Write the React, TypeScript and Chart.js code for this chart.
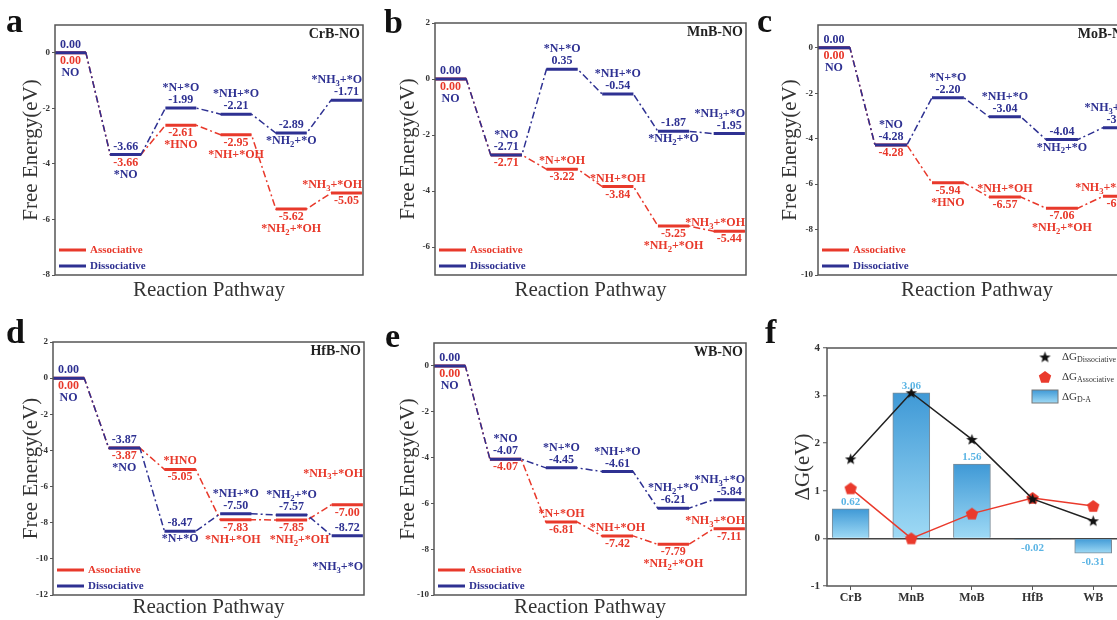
import React, { useEffect, useRef } from 'react';
import { Chart, registerables } from 'chart.js';

Chart.register(...registerables);

const SERIF = '"Liberation Serif", "Times New Roman", serif';
const BLUE = '#2e3192';
const RED = '#e8392b';
const AXIS = '#555555';
const TXT = '#333333';

// ---------------- data ----------------
const crbDissociative = [0.0, -3.66, -1.99, -2.21, -2.89, -1.71];
const crbAssociative = [0.0, -3.66, -2.61, -2.95, -5.62, -5.05];
const crbYTicks = [0, -2, -4, -6, -8];

const mnbDissociative = [0.0, -2.71, 0.35, -0.54, -1.87, -1.95];
const mnbAssociative = [0.0, -2.71, -3.22, -3.84, -5.25, -5.44];
const mnbYTicks = [2, 0, -2, -4, -6];

const mobDissociative = [0.0, -4.28, -2.2, -3.04, -4.04, -3.52];
const mobAssociative = [0.0, -4.28, -5.94, -6.57, -7.06, -6.54];
const mobYTicks = [0, -2, -4, -6, -8, -10];

const hfbDissociative = [0.0, -3.87, -8.47, -7.5, -7.57, -8.72];
const hfbAssociative = [0.0, -3.87, -5.05, -7.83, -7.85, -7.0];
const hfbYTicks = [2, 0, -2, -4, -6, -8, -10, -12];

const wbDissociative = [0.0, -4.07, -4.45, -4.61, -6.21, -5.84];
const wbAssociative = [0.0, -4.07, -6.81, -7.42, -7.79, -7.11];
const wbYTicks = [0, -2, -4, -6, -8, -10];

const catalysts = ['CrB', 'MnB', 'MoB', 'HfB', 'WB'];
const dGDissociative = [1.67, 3.06, 2.08, 0.83, 0.37];
const dGAssociative = [1.05, 0.0, 0.52, 0.85, 0.68];
const dGDiff = [0.62, 3.06, 1.56, -0.02, -0.31];
const dGYTicks = [-1, 0, 1, 2, 3, 4];

// [state, series (A=associative, D=dissociative), slot, text, optional x nudge]
const crbLabels = [
  [0, 'D', 'u1', '0.00'], [0, 'A', 'd1', '0.00'], [0, 'D', 'd2', 'NO'],
  [1, 'D', 'u1', '-3.66'], [1, 'A', 'd1', '-3.66'], [1, 'D', 'd2', '*NO'],
  [2, 'D', 'u2', '*N+*O'], [2, 'D', 'u1', '-1.99'], [2, 'A', 'd1', '-2.61'], [2, 'A', 'd2', '*HNO'],
  [3, 'D', 'u2', '*NH+*O'], [3, 'D', 'u1', '-2.21'], [3, 'A', 'd1', '-2.95'], [3, 'A', 'd2', '*NH+*OH'],
  [4, 'D', 'u1', '-2.89'], [4, 'D', 'd1', '*NH_2+*O'], [4, 'A', 'd1', '-5.62'], [4, 'A', 'd2', '*NH_2+*OH'],
  [5, 'D', 'u2', '*NH_3+*O'], [5, 'D', 'u1', '-1.71'], [5, 'A', 'u1', '*NH_3+*OH'], [5, 'A', 'd1', '-5.05'],
];
const mnbLabels = [
  [0, 'D', 'u1', '0.00'], [0, 'A', 'd1', '0.00'], [0, 'D', 'd2', 'NO'],
  [1, 'D', 'u2', '*NO'], [1, 'D', 'u1', '-2.71'], [1, 'A', 'd1', '-2.71'],
  [2, 'D', 'u2', '*N+*O'], [2, 'D', 'u1', '0.35'], [2, 'A', 'u1', '*N+*OH'], [2, 'A', 'd1', '-3.22'],
  [3, 'D', 'u2', '*NH+*O'], [3, 'D', 'u1', '-0.54'], [3, 'A', 'u1', '*NH+*OH'], [3, 'A', 'd1', '-3.84'],
  [4, 'D', 'u1', '-1.87'], [4, 'D', 'd1', '*NH_2+*O'], [4, 'A', 'd1', '-5.25'], [4, 'A', 'd2', '*NH_2+*OH'],
  [5, 'D', 'u2', '*NH_3+*O'], [5, 'D', 'u1', '-1.95'], [5, 'A', 'u1', '*NH_3+*OH'], [5, 'A', 'd1', '-5.44'],
];
const mobLabels = [
  [0, 'D', 'u1', '0.00'], [0, 'A', 'd1', '0.00'], [0, 'D', 'd2', 'NO'],
  [1, 'D', 'u2', '*NO'], [1, 'D', 'u1', '-4.28'], [1, 'A', 'd1', '-4.28'],
  [2, 'D', 'u2', '*N+*O'], [2, 'D', 'u1', '-2.20'], [2, 'A', 'd1', '-5.94'], [2, 'A', 'd2', '*HNO'],
  [3, 'D', 'u2', '*NH+*O'], [3, 'D', 'u1', '-3.04'], [3, 'A', 'u1', '*NH+*OH'], [3, 'A', 'd1', '-6.57'],
  [4, 'D', 'u1', '-4.04'], [4, 'D', 'd1', '*NH_2+*O'], [4, 'A', 'd1', '-7.06'], [4, 'A', 'd2', '*NH_2+*OH'],
  [5, 'D', 'u2', '*NH_3+*O'], [5, 'D', 'u1', '-3.52'], [5, 'A', 'u1', '*NH_3+*OH'], [5, 'A', 'd1', '-6.54'],
];
const hfbLabels = [
  [0, 'D', 'u1', '0.00'], [0, 'A', 'd1', '0.00'], [0, 'D', 'd2', 'NO'],
  [1, 'D', 'u1', '-3.87'], [1, 'A', 'd1', '-3.87'], [1, 'D', 'd2', '*NO'],
  [2, 'A', 'u1', '*HNO'], [2, 'A', 'd1', '-5.05'], [2, 'D', 'u1', '-8.47'], [2, 'D', 'd1', '*N+*O'],
  [3, 'D', 'u2', '*NH+*O'], [3, 'D', 'u1', '-7.50'], [3, 'A', 'd1', '-7.83'], [3, 'A', 'd2', '*NH+*OH', -3],
  [4, 'D', 'u2', '*NH_2+*O'], [4, 'D', 'u1', '-7.57'], [4, 'A', 'd1', '-7.85'], [4, 'A', 'd2', '*NH_2+*OH', 8],
  [5, 'A', 'u3', '*NH_3+*OH'], [5, 'A', 'd1', '-7.00'], [5, 'D', 'u1', '-8.72'], [5, 'D', 'd3', '*NH_3+*O'],
];
const wbLabels = [
  [0, 'D', 'u1', '0.00'], [0, 'A', 'd1', '0.00'], [0, 'D', 'd2', 'NO'],
  [1, 'D', 'u2', '*NO'], [1, 'D', 'u1', '-4.07'], [1, 'A', 'd1', '-4.07'],
  [2, 'D', 'u2', '*N+*O'], [2, 'D', 'u1', '-4.45'], [2, 'A', 'u1', '*N+*OH'], [2, 'A', 'd1', '-6.81'],
  [3, 'D', 'u2', '*NH+*O'], [3, 'D', 'u1', '-4.61'], [3, 'A', 'u1', '*NH+*OH'], [3, 'A', 'd1', '-7.42'],
  [4, 'D', 'u2', '*NH_2+*O'], [4, 'D', 'u1', '-6.21'], [4, 'A', 'd1', '-7.79'], [4, 'A', 'd2', '*NH_2+*OH'],
  [5, 'D', 'u2', '*NH_3+*O'], [5, 'D', 'u1', '-5.84'], [5, 'A', 'u1', '*NH_3+*OH'], [5, 'A', 'd1', '-7.11'],
];
const dGDiffLabels = ['0.62', '3.06', '1.56', '-0.02', '-0.31'];

// ---------------- rich text helpers ----------------
function richParts(s: string) {
  const out: { t: string; sub: boolean }[] = [];
  let buf = '';
  let i = 0;
  while (i < s.length) {
    if (s[i] === '_') {
      if (buf) { out.push({ t: buf, sub: false }); buf = ''; }
      if (s[i + 1] === '{') {
        const j = s.indexOf('}', i);
        out.push({ t: s.slice(i + 2, j), sub: true });
        i = j + 1;
      } else {
        out.push({ t: s[i + 1], sub: true });
        i += 2;
      }
    } else {
      buf += s[i];
      i++;
    }
  }
  if (buf) out.push({ t: buf, sub: false });
  return out;
}
function fontStr(size: number, weight: string) {
  return `${weight} ${size}px ${SERIF}`;
}
function richWidth(ctx: CanvasRenderingContext2D, s: string, size: number, weight: string) {
  let w = 0;
  for (const p of richParts(s)) {
    ctx.font = fontStr(p.sub ? size * 0.72 : size, weight);
    w += ctx.measureText(p.t).width;
  }
  return w;
}
function drawRich(ctx: CanvasRenderingContext2D, s: string, x: number, y: number, size: number, weight: string, color: string, align: string) {
  const w = richWidth(ctx, s, size, weight);
  let cx = align === 'center' ? x - w / 2 : align === 'right' ? x - w : x;
  ctx.fillStyle = color;
  ctx.textAlign = 'left';
  ctx.textBaseline = 'middle';
  for (const p of richParts(s)) {
    const sz = p.sub ? size * 0.72 : size;
    ctx.font = fontStr(sz, weight);
    ctx.fillText(p.t, cx, p.sub ? y + size * 0.3 : y);
    cx += ctx.measureText(p.t).width;
  }
  return w;
}

// ---------------- geometry ----------------
type Geom = { left: number; top: number; w: number; h: number; pad: any; yW: number; xH: number; xtPad: number; ytPad: number };
const geomA: Geom = { left: 0, top: 0, w: 372, h: 310, pad: { top: 25, right: 9, bottom: 0, left: 0 }, yW: 55, xH: 35, xtPad: 7, ytPad: 19 };
const geomB: Geom = { left: 372, top: 0, w: 376, h: 310, pad: { top: 23, right: 2, bottom: 0, left: 0 }, yW: 63, xH: 35, xtPad: 7, ytPad: 24 };
const geomC: Geom = { left: 748, top: 0, w: 392, h: 310, pad: { top: 25, right: 4, bottom: 0, left: 0 }, yW: 70, xH: 35, xtPad: 7, ytPad: 30 };
const geomD: Geom = { left: 0, top: 310, w: 372, h: 310, pad: { top: 32, right: 8, bottom: 0, left: 0 }, yW: 53, xH: 25, xtPad: 0, ytPad: 19 };
const geomE: Geom = { left: 372, top: 310, w: 376, h: 310, pad: { top: 33, right: 2, bottom: 0, left: 0 }, yW: 62, xH: 25, xtPad: 0, ytPad: 24 };
const geomF: Geom = { left: 748, top: 310, w: 380, h: 310, pad: { top: 38, right: 3, bottom: 0, left: 0 }, yW: 79, xH: 34, xtPad: 0, ytPad: 43 };

const SLOT: Record<string, number> = { u3: -31, u2: -20, u1: -8, d1: 8, d2: 20, d3: 31 };

type EnergySpec = {
  title: string; assoc: number[]; diss: number[]; yMin: number; yMax: number; yTicks: number[]; labels: any[]; g: Geom;
};

function energyConfig(s: EnergySpec): any {
  const HW = 0.28;
  const path = (vals: number[]) => vals.flatMap((v, i) => [{ x: i - HW, y: v }, { x: i + HW, y: v }]);
  const levels = (vals: number[]) => vals.flatMap((v, i) => [{ x: i - HW, y: v }, { x: i + HW, y: v }, { x: i + 0.5, y: null }]);
  const dash = [7, 3, 2, 3];
  const g = s.g;
  const decor = {
    id: 'energyDecor',
    afterDatasetsDraw(chart: any) {
      const { ctx, chartArea: ca, scales } = chart;
      const xs = scales.x;
      const ys = scales.y;
      ctx.save();
      ctx.strokeStyle = AXIS;
      ctx.lineWidth = 1.5;
      ctx.strokeRect(ca.left, ca.top, ca.right - ca.left, ca.bottom - ca.top);
      for (const [i, ser, slot, text, nudge] of s.labels) {
        const v = (ser === 'A' ? s.assoc : s.diss)[i];
        const y = ys.getPixelForValue(v) + SLOT[slot];
        const w = richWidth(ctx, text, 12, 'bold');
        let x = xs.getPixelForValue(i) + (nudge || 0);
        x = Math.min(Math.max(x, ca.left + w / 2 + 1), ca.right - w / 2 - 1);
        drawRich(ctx, text, x, y, 12, 'bold', ser === 'A' ? RED : BLUE, 'center');
      }
      drawRich(ctx, s.title, ca.right - 3, ca.top + 9, 14, 'bold', '#222', 'right');
      const legend = [['Associative', RED, 25], ['Dissociative', BLUE, 9]];
      for (const [name, col, off] of legend as any) {
        const y = ca.bottom - off;
        ctx.strokeStyle = col;
        ctx.lineWidth = 3;
        ctx.setLineDash([]);
        ctx.beginPath();
        ctx.moveTo(ca.left + 4, y);
        ctx.lineTo(ca.left + 31, y);
        ctx.stroke();
        drawRich(ctx, name, ca.left + 35, y, 11, 'bold', col, 'left');
      }
      ctx.restore();
    },
  };
  const ticksAsc = [...s.yTicks].sort((a, b) => a - b);
  return {
    type: 'line',
    data: {
      datasets: [
        { data: levels(s.diss), borderColor: BLUE, borderWidth: 3, pointRadius: 0, order: 0, borderCapStyle: 'butt' },
        { data: path(s.diss), borderColor: BLUE, borderWidth: 1.5, borderDash: dash, pointRadius: 0, order: 1 },
        { data: levels(s.assoc), borderColor: RED, borderWidth: 3, pointRadius: 0, order: 2, borderCapStyle: 'butt' },
        { data: path(s.assoc), borderColor: RED, borderWidth: 1.5, borderDash: dash, pointRadius: 0, order: 3 },
      ],
    },
    options: {
      responsive: false,
      animation: false,
      devicePixelRatio: 1,
      events: [],
      layout: { padding: g.pad },
      plugins: { legend: { display: false }, tooltip: { enabled: false } },
      scales: {
        x: {
          type: 'linear', min: -HW, max: 5.3,
          ticks: { display: false }, grid: { display: false }, border: { display: false },
          title: { display: true, text: 'Reaction Pathway', color: TXT, font: { family: SERIF, size: 21 }, padding: { top: 0, bottom: g.xtPad } },
          afterFit: (sc: any) => { sc.height = g.xH; },
        },
        y: {
          type: 'linear', min: s.yMin, max: s.yMax,
          afterBuildTicks: (sc: any) => { sc.ticks = ticksAsc.map((v) => ({ value: v })); },
          ticks: { color: TXT, font: { family: SERIF, size: 9, weight: 'bold' }, padding: 2, callback: (v: any) => String(v) },
          grid: { display: true, drawOnChartArea: false, drawTicks: true, tickLength: 3, color: AXIS, tickColor: AXIS },
          border: { display: false },
          title: { display: true, text: 'Free Energy(eV)', color: TXT, font: { family: SERIF, size: 21 }, padding: { top: g.ytPad, bottom: 0 } },
          afterFit: (sc: any) => { sc.width = g.yW; },
        },
      },
    },
    plugins: [decor],
  };
}

function makeStar(size: number, color: string) {
  const c = document.createElement('canvas');
  c.width = size; c.height = size;
  const x = c.getContext('2d')!;
  const R = size / 2 - 0.5, r = R * 0.42, cx = size / 2, cy = size / 2 + 0.5;
  x.beginPath();
  for (let k = 0; k < 10; k++) {
    const rad = k % 2 === 0 ? R : r;
    const a = -Math.PI / 2 + (k * Math.PI) / 5;
    const px = cx + rad * Math.cos(a), py = cy + rad * Math.sin(a);
    if (k === 0) x.moveTo(px, py); else x.lineTo(px, py);
  }
  x.closePath();
  x.fillStyle = color;
  x.fill();
  return c;
}
function makePentagon(size: number, color: string) {
  const c = document.createElement('canvas');
  c.width = size; c.height = size;
  const x = c.getContext('2d')!;
  const R = size / 2 - 0.5, cx = size / 2, cy = size / 2 + 0.5;
  x.beginPath();
  for (let k = 0; k < 5; k++) {
    const a = -Math.PI / 2 + (k * 2 * Math.PI) / 5;
    const px = cx + R * Math.cos(a), py = cy + R * Math.sin(a);
    if (k === 0) x.moveTo(px, py); else x.lineTo(px, py);
  }
  x.closePath();
  x.fillStyle = color;
  x.fill();
  return c;
}

function barGradient(ctx: CanvasRenderingContext2D, y0: number, y1: number) {
  const gr = ctx.createLinearGradient(0, y0, 0, y1);
  gr.addColorStop(0, '#3f99d6');
  gr.addColorStop(1, '#9fdaf5');
  return gr;
}

function dGConfig(): any {
  const g = geomF;
  const star = makeStar(13, '#111111');
  const pent = makePentagon(14, '#ea3a2c');
  const pts = (vals: number[]) => vals.map((v, i) => ({ x: i, y: v }));
  const decor = {
    id: 'dGDecor',
    afterDatasetsDraw(chart: any) {
      const { ctx, chartArea: ca, scales } = chart;
      ctx.save();
      ctx.strokeStyle = AXIS;
      ctx.lineWidth = 1.5;
      ctx.strokeRect(ca.left, ca.top, ca.right - ca.left, ca.bottom - ca.top);
      dGDiff.forEach((v, i) => {
        const x = scales.x.getPixelForValue(i);
        const y = scales.y.getPixelForValue(v) + (v >= 0 ? -7 : 9);
        drawRich(ctx, dGDiffLabels[i], x, y, 11, 'bold', '#5ab4e4', 'center');
      });
      const lx = ca.left + 218;
      ctx.drawImage(star, lx - star.width / 2, ca.top + 9 - star.height / 2);
      ctx.drawImage(pent, lx - pent.width / 2, ca.top + 29 - pent.height / 2);
      ctx.fillStyle = barGradient(ctx, ca.top + 42, ca.top + 55);
      ctx.fillRect(lx - 13, ca.top + 42, 26, 13);
      ctx.strokeStyle = '#777';
      ctx.lineWidth = 1;
      ctx.strokeRect(lx - 13, ca.top + 42, 26, 13);
      drawRich(ctx, 'ΔG_{Dissociative}', lx + 17, ca.top + 9, 11, 'normal', TXT, 'left');
      drawRich(ctx, 'ΔG_{Associative}', lx + 17, ca.top + 29, 11, 'normal', TXT, 'left');
      drawRich(ctx, 'ΔG_{D-A}', lx + 17, ca.top + 49, 11, 'normal', TXT, 'left');
      ctx.restore();
    },
  };
  return {
    type: 'bar',
    data: {
      datasets: [
        { type: 'line', data: pts(dGDissociative), borderColor: '#222', borderWidth: 1.5, pointStyle: star, pointRadius: 6, order: 0 },
        { type: 'line', data: pts(dGAssociative), borderColor: '#ea3a2c', borderWidth: 1.5, pointStyle: pent, pointRadius: 6, order: 1 },
        {
          type: 'bar', data: pts(dGDiff), barThickness: 37, borderColor: '#7a8a96', borderWidth: 1, order: 2,
          backgroundColor: (c: any) => {
            const chart = c.chart;
            if (!chart.chartArea || !c.raw) return '#6cc1ec';
            const v = c.raw.y;
            const ys = chart.scales.y;
            const y0 = ys.getPixelForValue(Math.max(v, 0));
            const y1 = ys.getPixelForValue(Math.min(v, 0));
            if (Math.abs(y1 - y0) < 2) return '#4a9fd8';
            return barGradient(chart.ctx, y0, y1);
          },
        },
      ],
    },
    options: {
      responsive: false,
      animation: false,
      devicePixelRatio: 1,
      events: [],
      layout: { padding: g.pad },
      plugins: { legend: { display: false }, tooltip: { enabled: false } },
      scales: {
        x: {
          type: 'linear', min: -0.39, max: 4.45, offset: false,
          afterBuildTicks: (sc: any) => { sc.ticks = catalysts.map((_, i) => ({ value: i })); },
          ticks: { color: TXT, font: { family: SERIF, size: 12, weight: 'bold' }, padding: 1, autoSkip: false, maxRotation: 0, callback: (v: any) => catalysts[v] },
          grid: { display: true, drawOnChartArea: false, tickLength: 4, color: AXIS, tickColor: AXIS, offset: false },
          border: { display: false },
          afterFit: (sc: any) => { sc.height = g.xH; },
        },
        y: {
          type: 'linear', min: -1, max: 4,
          afterBuildTicks: (sc: any) => { sc.ticks = dGYTicks.map((v) => ({ value: v })); },
          ticks: { color: TXT, font: { family: SERIF, size: 11, weight: 'bold' }, padding: 3, callback: (v: any) => String(v) },
          grid: {
            display: true, drawOnChartArea: true, tickLength: 4, tickColor: AXIS, tickWidth: 1, lineWidth: 1.5,
            color: (c: any) => (c.tick && c.tick.value === 0 ? '#444444' : 'rgba(0,0,0,0)'),
          },
          border: { display: false },
          title: { display: true, text: 'ΔG(eV)', color: TXT, font: { family: SERIF, size: 21 }, padding: { top: g.ytPad, bottom: 0 } },
          afterFit: (sc: any) => { sc.width = g.yW; },
        },
      },
    },
    plugins: [decor],
  };
}

function ChartCanvas({ geom, build }: { geom: Geom; build: () => any }) {
  const ref = useRef<HTMLCanvasElement>(null);
  useEffect(() => {
    const chart = new Chart(ref.current as HTMLCanvasElement, build());
    return () => chart.destroy();
  }, []);
  return (
    <canvas
      ref={ref}
      width={geom.w}
      height={geom.h}
      style={{ position: 'absolute', left: geom.left, top: geom.top, width: geom.w, height: geom.h }}
    />
  );
}

const panelLetters = [
  { t: 'a', l: 6, top: 4 },
  { t: 'b', l: 384, top: 5 },
  { t: 'c', l: 757, top: 4 },
  { t: 'd', l: 6, top: 315 },
  { t: 'e', l: 385, top: 319 },
  { t: 'f', l: 765, top: 315 },
];

export default function App() {
  const specs: EnergySpec[] = [
    { title: 'CrB-NO', assoc: crbAssociative, diss: crbDissociative, yMin: -8, yMax: 1, yTicks: crbYTicks, labels: crbLabels, g: geomA },
    { title: 'MnB-NO', assoc: mnbAssociative, diss: mnbDissociative, yMin: -7, yMax: 2, yTicks: mnbYTicks, labels: mnbLabels, g: geomB },
    { title: 'MoB-NO', assoc: mobAssociative, diss: mobDissociative, yMin: -10, yMax: 1, yTicks: mobYTicks, labels: mobLabels, g: geomC },
    { title: 'HfB-NO', assoc: hfbAssociative, diss: hfbDissociative, yMin: -12, yMax: 2, yTicks: hfbYTicks, labels: hfbLabels, g: geomD },
    { title: 'WB-NO', assoc: wbAssociative, diss: wbDissociative, yMin: -10, yMax: 1, yTicks: wbYTicks, labels: wbLabels, g: geomE },
  ];
  return (
    <div style={{ position: 'absolute', left: 0, top: 0, width: 1117, height: 620, overflow: 'hidden', background: '#ffffff' }}>
      {specs.map((s) => (
        <ChartCanvas key={s.title} geom={s.g} build={() => energyConfig(s)} />
      ))}
      <ChartCanvas geom={geomF} build={dGConfig} />
      {panelLetters.map((p) => (
        <div
          key={p.t}
          style={{ position: 'absolute', left: p.l, top: p.top, font: `bold 34px ${SERIF}`, lineHeight: '34px', color: '#111' }}
        >
          {p.t}
        </div>
      ))}
    </div>
  );
}
